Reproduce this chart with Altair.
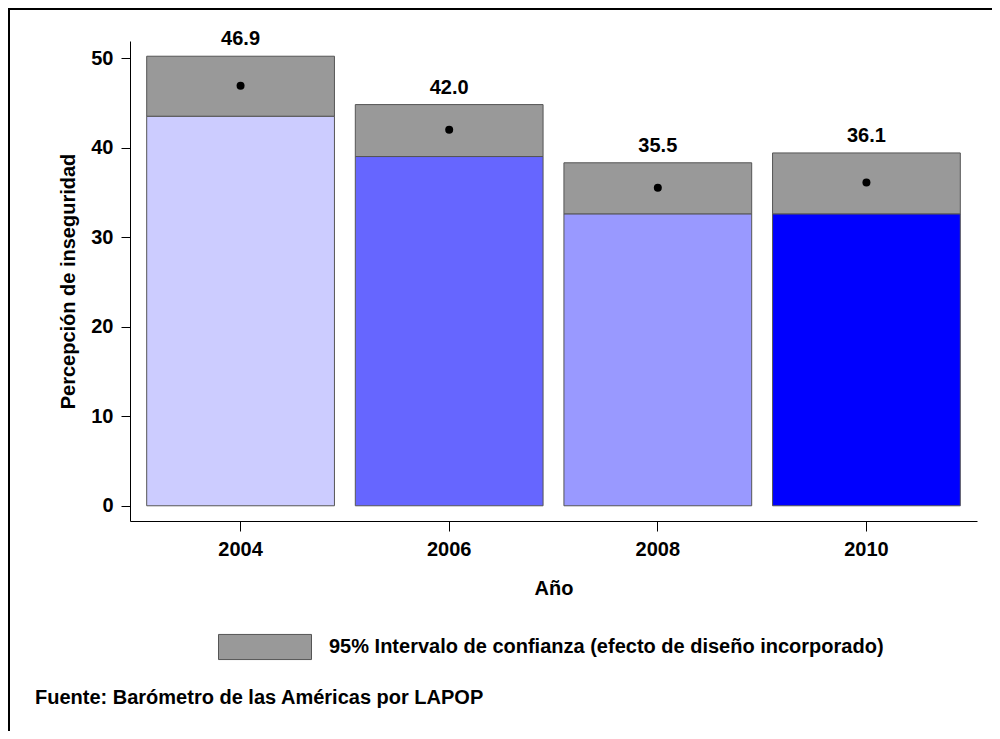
import altair as alt
import pandas as pd

years = ["2004", "2006", "2008", "2010"]
means = [46.9, 42.0, 35.5, 36.1]
lower = [43.5, 39.0, 32.6, 32.6]
upper = [50.2, 44.8, 38.3, 39.4]
bar_colors = ["#CCCCFF", "#6666FF", "#9999FF", "#0000FF"]
ci_label = "95% Intervalo de confianza (efecto de diseño incorporado)"
source = "Fuente: Barómetro de las Américas por LAPOP"
y_ticks = [0, 10, 20, 30, 40, 50]

df = pd.DataFrame({
    "year": years,
    "mean": means,
    "lower": lower,
    "upper": upper,
    "fill": bar_colors,
    "ci": [ci_label] * len(years),
})

FONT = "Liberation Sans"
FS = 20
W, H = 847, 480

yscale = alt.Scale(domain=[-1.7, 51.9], nice=False, zero=False)
x_enc = alt.X(
    "year:O",
    scale=alt.Scale(paddingInner=0.1, paddingOuter=0.08),
    axis=alt.Axis(title="Año", labelAngle=0, tickSize=10, labelPadding=8, titlePadding=19),
)

base = alt.Chart(df)

bars = base.mark_bar(stroke="#555555", strokeWidth=1).encode(
    x=x_enc,
    y=alt.Y("lower:Q", scale=yscale,
            axis=alt.Axis(title="Percepción de inseguridad", values=y_ticks,
                          tickSize=9, labelPadding=8, titlePadding=12)),
    y2=alt.datum(0),
    fill=alt.Fill("fill:N", scale=None),
)

ci = base.mark_bar(stroke="#555555", strokeWidth=1).encode(
    x=x_enc,
    y=alt.Y("lower:Q", scale=yscale),
    y2="upper:Q",
    color=alt.Color(
        "ci:N",
        scale=alt.Scale(range=["#999999"]),
        legend=alt.Legend(
            title=None, orient="none", legendX=88, legendY=559, padding=0,
            symbolType="M-1,-0.27L1,-0.27L1,0.27L-1,0.27Z", symbolSize=8649,
            symbolStrokeColor="#555555", symbolStrokeWidth=1, symbolOpacity=1,
            labelFont=FONT, labelFontSize=FS, labelFontWeight="bold",
            labelColor="black", labelOffset=17, labelLimit=900,
        ),
    ),
)

dots = base.mark_circle(size=64, color="black", opacity=1).encode(
    x=x_enc,
    y=alt.Y("mean:Q", scale=yscale),
)

labels = base.mark_text(
    font=FONT, fontSize=FS, fontWeight="bold", color="black",
    baseline="alphabetic", dy=-11,
).encode(
    x=x_enc,
    y=alt.Y("upper:Q", scale=yscale),
    text=alt.Text("mean:Q", format=".1f"),
)

caption = alt.Chart(pd.DataFrame({"t": [source]})).mark_text(
    font=FONT, fontSize=FS, fontWeight="bold", color="black",
    align="left", baseline="middle",
).encode(
    text="t:N",
    x=alt.value(-95),
    y=alt.value(657),
)

frame_top = alt.Chart(pd.DataFrame({"a": [0]})).mark_rule(color="black", strokeWidth=2).encode(
    x=alt.value(-122), x2=alt.value(W + 15), y=alt.value(-32),
)
frame_left = alt.Chart(pd.DataFrame({"a": [0]})).mark_rule(color="black", strokeWidth=2).encode(
    x=alt.value(-121), y=alt.value(-33), y2=alt.value(H + 210),
)

chart = alt.layer(bars, ci, dots, labels, caption, frame_top, frame_left).resolve_scale(
    color="independent"
).properties(
    width=W, height=H,
    padding={"left": 122, "top": 33, "right": 15, "bottom": 210},
    autosize=alt.AutoSizeParams(type="none"),
    background="white",
).configure_view(stroke=None).configure_axis(
    labelFont=FONT, labelFontSize=FS, labelFontWeight="bold", labelColor="black",
    titleFont=FONT, titleFontSize=FS, titleFontWeight="bold", titleColor="black",
    domainColor="black", tickColor="black", grid=False,
)

chart.save("out.html", embed_options={"renderer": "svg", "actions": False})
